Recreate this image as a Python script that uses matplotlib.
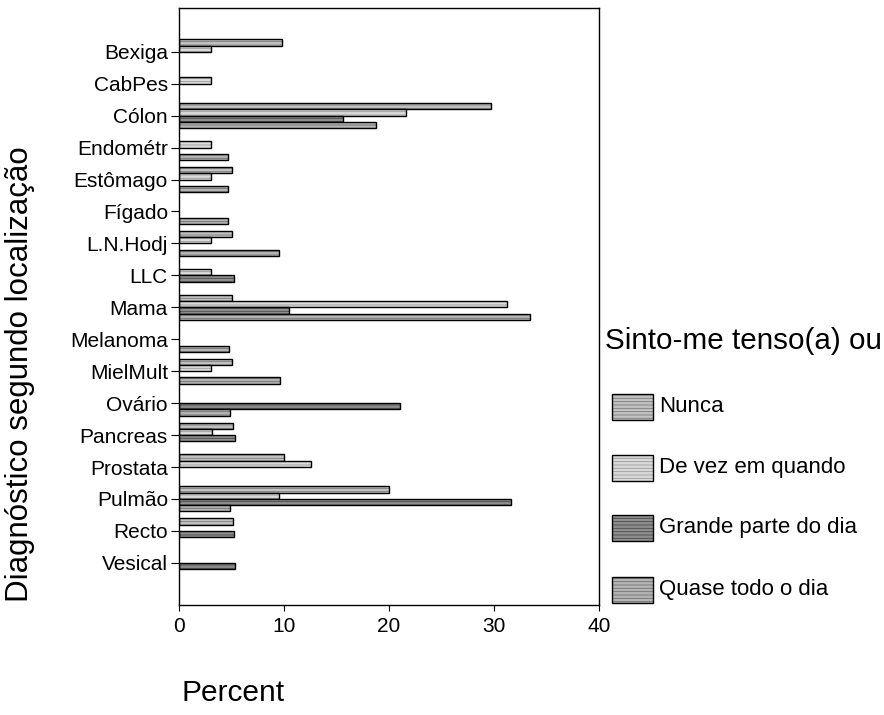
import matplotlib
matplotlib.use("Agg")
import matplotlib.pyplot as plt
import numpy as np

plt.rcParams['font.family'] = ['Liberation Sans', 'DejaVu Sans']
plt.rcParams['hatch.linewidth'] = 0.6

categories = ["Bexiga", "CabPes", "Cólon", "Endométr", "Estômago", "Fígado",
              "L.N.Hodj", "LLC", "Mama", "Melanoma", "MielMult", "Ovário",
              "Pancreas", "Prostata", "Pulmão", "Recto", "Vesical"]

series_names = ["Nunca", "De vez em quando", "Grande parte do dia", "Quase todo o dia"]

nunca = [9.8, 0, 29.7, 0, 5.0, 0, 5.0, 0, 5.0, 0, 5.0, 0, 5.1, 10.0, 20.0, 5.1, 0]
de_vez = [3.0, 3.0, 21.6, 3.0, 3.0, 0, 3.0, 3.0, 31.2, 0, 3.0, 0, 3.1, 12.6, 9.5, 0, 0]
grande = [0, 0, 15.6, 0, 0, 0, 0, 5.2, 10.5, 0, 0, 21.0, 5.3, 0, 31.6, 5.2, 5.3]
quase = [0, 0, 18.8, 4.7, 4.7, 4.7, 9.5, 0, 33.4, 4.8, 9.6, 4.9, 0, 0, 4.9, 0, 0]

x_ticks = [0, 10, 20, 30, 40]

series_values = [nunca, de_vez, grande, quase]
fills = ["#c2c2c2", "#dadada", "#8e8e8e", "#b4b4b4"]
grains = ["#7a7a7a", "#9a9a9a", "#4a4a4a", "#707070"]

fig = plt.figure(figsize=(8.84, 7.15), dpi=100)
ax = fig.add_axes([179 / 884, 1 - 605 / 715, (599 - 179) / 884, (605 - 8) / 715])

pos = np.arange(len(categories))
h = 0.196
offsets = [-1.5 * h, -0.5 * h, 0.5 * h, 1.5 * h]

for vals, off, fc, gc in zip(series_values, offsets, fills, grains):
    v = np.array(vals, dtype=float)
    keep = v > 0
    ax.barh(pos[keep] + off, v[keep], height=h, color=fc, edgecolor=gc,
            hatch="-----", linewidth=0)
    ax.barh(pos[keep] + off, v[keep], height=h, fill=False,
            edgecolor="black", linewidth=1.0)

ax.set_xlim(0, 40)
ax.set_ylim(17.32, -1.37)
ax.set_xticks(x_ticks)
ax.set_xticklabels([str(t) for t in x_ticks])
ax.set_yticks(pos)
ax.set_yticklabels(categories)
ax.tick_params(axis='both', labelsize=15, direction='out', color='black')
ax.tick_params(axis='y', length=6, pad=2)
ax.tick_params(axis='x', length=4, pad=5)
for s in ax.spines.values():
    s.set_linewidth(1.0)

fig.text(20 / 884, 1 - 374 / 715, "Diagnóstico segundo localização",
         rotation=90, ha='center', va='center', fontsize=22.5)
fig.text(182 / 884, 1 - 693 / 715, "Percent", ha='left', va='center', fontsize=21.5)

# legend drawn as figure-level patches and labels
fig.text(605 / 884, 1 - 349 / 715, "Sinto-me tenso(a) ou", ha='left',
         va='baseline', fontsize=21.3)
leg_y = [407, 468, 528, 590]
for name, fc, gc, yc in zip(series_names, fills, grains, leg_y):
    x0, w, hh = 612, 41, 26
    fig.patches.append(plt.Rectangle((x0 / 884, 1 - (yc + hh / 2) / 715), w / 884, hh / 715,
                                     transform=fig.transFigure, facecolor=fc,
                                     edgecolor=gc, hatch="-----", linewidth=0))
    fig.patches.append(plt.Rectangle((x0 / 884, 1 - (yc + hh / 2) / 715), w / 884, hh / 715,
                                     transform=fig.transFigure, fill=False,
                                     edgecolor="black", linewidth=1.0))
    fig.text(659 / 884, 1 - yc / 715, name, ha='left', va='center', fontsize=16)

fig.savefig("out.png", dpi=100)
